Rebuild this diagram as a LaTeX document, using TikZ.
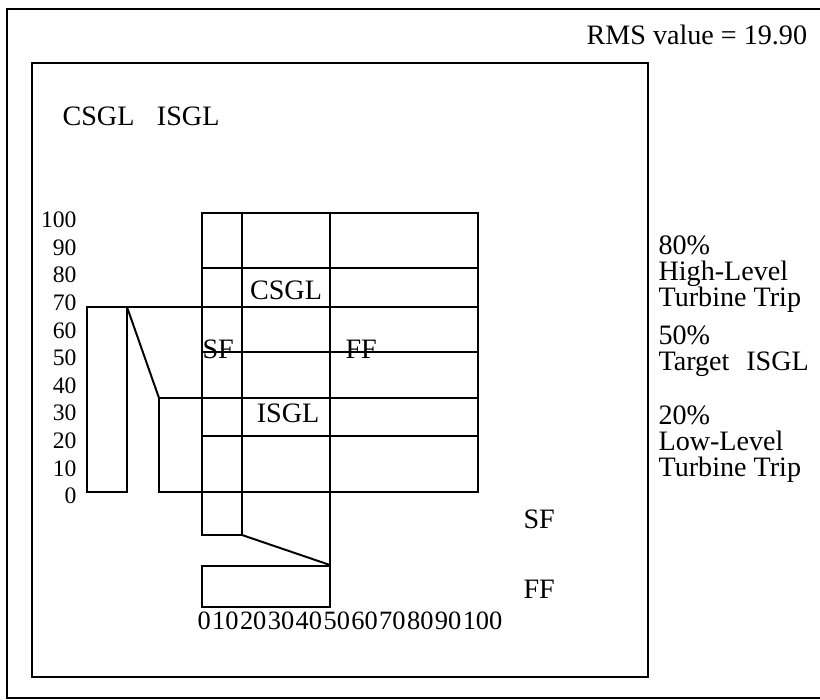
\documentclass[tikz,border=0pt]{standalone}
\usepackage{fontspec}
\setmainfont{Liberation Serif}
\usetikzlibrary{positioning}

\begin{document}
\begin{tikzpicture}[
    x=0.0125cm, y=-0.0125cm,
    % Styles des traits
    trait/.style={line width=0.7pt, line join=miter},
    % Styles des textes
    txt/.style={font=\fontsize{10}{9.2}\selectfont, inner sep=0pt, align=left},
    ylab/.style={font=\fontsize{8.4}{9}\selectfont, inner sep=0pt, anchor=east},
  ]
  \useasboundingbox (0,0) rectangle (820,700);

  %% ── Cadres ──
  \draw[trait] (830,9) -- (7,9) -- (7,698) -- (830,698);
  \draw[trait] (32,63) rectangle (648,677);

  %% ── Titres ──
  \node[txt, anchor=base west] (rms) at (586,45) {RMS value = 19.90};
  \node[txt, anchor=base west] (leg) at (62,126) {CSGL\hspace{8pt}ISGL};

  % Echelle verticale
  \foreach \v in {0,10,...,100}
    \node[ylab] (y\v) at (77,{496-2.76*\v}) {\v};

  %% ── Barres de gauche ──
  \draw[trait] (87,307) rectangle (127,492);
  \draw[trait] (127,307) -- (159,398) -- (159,492) -- (202,492);

  %% ── Grille ──
  \draw[trait] (202,213) rectangle (478,492);
  \draw[trait] (202,268) -- (478,268);
  \draw[trait] (127,307) -- (478,307);
  \draw[trait] (202,352) -- (478,352);
  \draw[trait] (159,398) -- (478,398);
  \draw[trait] (202,436) -- (478,436);
  \draw[trait] (242,213) -- (242,535);
  \draw[trait] (202,492) -- (202,535) -- (242,535) -- (330,565) -- (330,213);
  \draw[trait] (202,566) rectangle (330,607);

  \node[txt, anchor=base] (csgl) at (286,300) {CSGL};
  \node[txt, anchor=base] (isgl) at (288,422) {ISGL};
  \node[txt, anchor=base west] (sf) at (202,358) {SF};
  \node[txt, anchor=base west] (ff) at (345,358) {FF};

  % Echelle horizontale
  \node[txt, anchor=base west] (xax) at (197,629)
    {\fontsize{9.4}{12}\selectfont\spaceskip=0.5pt 0 10 20 30 40 50 60 70 80 90 100};

  \node[txt, anchor=base west] (sf2) at (523,528) {SF};
  \node[txt, anchor=base west] (ff2) at (523,598) {FF};

  %% ── Seuils ──
  \node[txt, anchor=north west] (haut) at (658,235) {80\%\\High-Level\\Turbine Trip};
  \node[txt, anchor=north west] (cible) at (658,325) {50\%\\Target\hspace{6pt}ISGL};
  \node[txt, anchor=north west] (bas) at (658,405) {20\%\\Low-Level\\Turbine Trip};
\end{tikzpicture}
\end{document}
